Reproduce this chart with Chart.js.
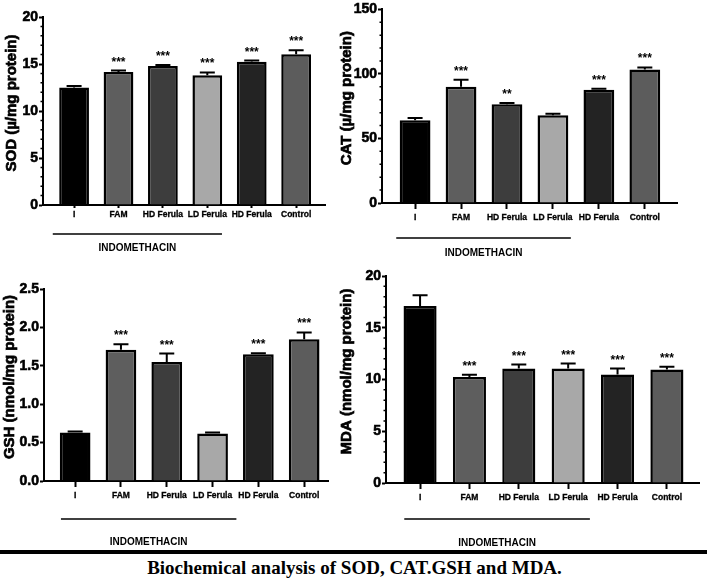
<!DOCTYPE html>
<html lang="en">
<head>
<meta charset="UTF-8">
<title>Biochemical analysis of SOD, CAT.GSH and MDA</title>
<script src="https://cdn.jsdelivr.net/npm/chart.js@4.4.1/dist/chart.umd.min.js"></script>
<style>
  body { margin: 0; background: #fff; width: 709px; height: 582px; position: relative; overflow: hidden; }
  canvas { position: absolute; }
  #rule { position: absolute; left: 0; top: 550px; width: 707px; height: 4px; background: #000; }
  #caption { position: absolute; left: 0; width: 709px; top: 557px; text-align: center;
             font: bold 19px "Liberation Serif", "Times New Roman", serif; color: #000; }
</style>
</head>
<body>
<canvas id="sod" width="330" height="262" style="left:0;top:0"></canvas>
<canvas id="cat" width="379" height="262" style="left:330px;top:0"></canvas>
<canvas id="gsh" width="330" height="286" style="left:0;top:262px"></canvas>
<canvas id="mda" width="379" height="286" style="left:330px;top:262px"></canvas>
<div id="rule"></div>
<div id="caption">Biochemical analysis of SOD, CAT.GSH and MDA.</div>
<script>
// groups, same for all four panels
const groups = ["I", "FAM", "HD Ferula", "LD Ferula", "HD Ferula", "Control"];
const barColors = ["#000000", "#5e5e5e", "#3d3d3d", "#a8a8a8", "#232323", "#5c5c5c"];

// SOD
const sodMean = [12.5, 14.15, 14.8, 13.8, 15.25, 16.05];
const sodSem = [0.15, 0.15, 0.1, 0.3, 0.12, 0.4];
const sodStars = ["", "***", "***", "***", "***", "***"];
const sodTicks = [0, 5, 10, 15, 20];

// CAT
const catMean = [64.2, 90, 76.6, 68, 87.8, 103.4];
const catSem = [1.6, 5.5, 0.8, 1.2, 0.8, 1.6];
const catStars = ["", "***", "**", "", "***", "***"];
const catTicks = [0, 50, 100, 150];

// GSH
const gshMean = [0.63, 1.71, 1.55, 0.62, 1.65, 1.845];
const gshSem = [0.015, 0.07, 0.11, 0.012, 0.015, 0.09];
const gshStars = ["", "***", "***", "", "***", "***"];
const gshTicks = [0, 0.5, 1.0, 1.5, 2.0, 2.5];

// MDA
const mdaMean = [17.1, 10.25, 11.06, 11.06, 10.48, 10.97];
const mdaSem = [1.05, 0.2, 0.38, 0.48, 0.58, 0.26];
const mdaStars = ["", "***", "***", "***", "***", "***"];
const mdaTicks = [0, 5, 10, 15, 20];

const FONT = "'Liberation Sans', Arial, sans-serif";
Chart.defaults.font.family = FONT;
Chart.defaults.color = "#000";

// error bars, stars, y title, minor ticks and the INDOMETHACIN bracket
const extras = {
  id: "extras",
  afterDatasetsDraw(chart, args, o) {
    const { ctx, scales: { x, y } } = chart;
    const means = chart.data.datasets[0].data.map(d => d.y);
    ctx.save();
    ctx.strokeStyle = "#000";
    ctx.fillStyle = "#000";
    ctx.lineWidth = 2;
    ctx.font = "bold 12px " + FONT;
    ctx.textAlign = "center";
    means.forEach((m, i) => {
      const px = x.getPixelForValue(i);
      const yBar = y.getPixelForValue(m);
      const yTop = y.getPixelForValue(m + o.sem[i]);
      ctx.beginPath();
      ctx.moveTo(px, yBar);
      ctx.lineTo(px, yTop);
      ctx.moveTo(px - 7.5, yTop);
      ctx.lineTo(px + 7.5, yTop);
      ctx.stroke();
      if (o.stars[i]) ctx.fillText(o.stars[i], px, yTop - o.starGap);
    });
    ctx.restore();
  },
  afterDraw(chart, args, o) {
    const { ctx, chartArea: a, scales: { x, y } } = chart;
    ctx.save();
    ctx.strokeStyle = "#000";
    ctx.fillStyle = "#000";
    if (o.minorStep) {
      ctx.lineWidth = 1.5;
      const n = Math.round(y.max / o.minorStep);
      const per = Math.round(o.majorStep / o.minorStep);
      ctx.beginPath();
      for (let k = 1; k < n; k++) {
        if (k % per === 0) continue;
        const py = y.getPixelForValue(k * o.minorStep);
        ctx.moveTo(a.left, py);
        ctx.lineTo(a.left - 2.5, py);
      }
      ctx.stroke();
    }
    // y title, a little heavier than plain bold like the scan
    ctx.save();
    ctx.translate(o.titleX, (a.top + a.bottom) / 2 - 8);
    ctx.rotate(-Math.PI / 2);
    ctx.font = "bold 15px " + FONT;
    ctx.textAlign = "center";
    ctx.textBaseline = "middle";
    ctx.lineWidth = 0.7;
    ctx.fillText(o.title, 0, 0);
    ctx.strokeText(o.title, 0, 0);
    ctx.restore();
    // bracket
    const x1 = x.getPixelForValue(o.bracket[0]);
    const x2 = x.getPixelForValue(o.bracket[1]);
    const ly = a.bottom + o.lineDy;
    ctx.lineWidth = 1.5;
    ctx.beginPath();
    ctx.moveTo(x1, ly);
    ctx.lineTo(x2, ly);
    ctx.stroke();
    ctx.font = "bold 10px " + FONT;
    ctx.textAlign = "center";
    ctx.textBaseline = "middle";
    ctx.fillText("INDOMETHACIN", (x1 + x2) / 2, a.bottom + o.textDy);
    ctx.restore();
  }
};

function makePanel(id, p) {
  return new Chart(document.getElementById(id), {
    type: "bar",
    data: {
      datasets: [{
        data: p.mean.map((v, i) => ({ x: i, y: v })),
        backgroundColor: barColors,
        borderColor: "#000",
        borderWidth: 2.5,
        categoryPercentage: 1,
        barPercentage: 0.67
      }]
    },
    options: {
      responsive: false,
      animation: false,
      layout: { padding: { left: 0, top: p.top, right: p.right, bottom: p.bottom } },
      plugins: {
        legend: { display: false },
        tooltip: { enabled: false },
        extras: {
          sem: p.sem, stars: p.stars, starGap: 5,
          title: p.title, titleX: p.titleX,
          minorStep: p.minorStep, majorStep: p.majorStep,
          bracket: p.bracket, lineDy: p.lineDy, textDy: p.textDy
        }
      },
      scales: {
        x: {
          type: "linear",
          offset: false,
          min: p.xMin,
          max: p.xMax,
          afterBuildTicks: s => { s.ticks = groups.map((g, i) => ({ value: i })); },
          afterFit: s => { s.height = 30; },
          grid: { offset: false, drawOnChartArea: false, tickLength: p.xTickLen, tickColor: "#000", tickWidth: 2 },
          border: { color: "#000", width: 2 },
          ticks: {
            autoSkip: false, maxRotation: 0, padding: p.xPad,
            font: { size: 8.5, weight: "bold" },
            textStrokeColor: "#000", textStrokeWidth: 0.3,
            callback: v => groups[v]
          }
        },
        y: {
          min: 0,
          max: p.ticks[p.ticks.length - 1],
          afterBuildTicks: s => { s.ticks = p.ticks.map(v => ({ value: v })); },
          afterFit: s => { s.width = p.left; },
          grid: { drawOnChartArea: false, tickLength: 4, tickColor: "#000", tickWidth: 2 },
          border: { color: "#000", width: 2 },
          ticks: {
            padding: 1,
            font: { size: 14, weight: "bold" },
            textStrokeColor: "#000", textStrokeWidth: 0.6,
            callback: v => p.decimals ? v.toFixed(1) : v
          }
        }
      }
    },
    plugins: [extras]
  });
}

makePanel("sod", {
  mean: sodMean, sem: sodSem, stars: sodStars, ticks: sodTicks,
  title: "SOD (µ/mg protein)", titleX: 12,
  left: 43, top: 17, right: 5, bottom: 27,
  xMin: -0.7, xMax: 5.65, xTickLen: 3, xPad: 2,
  minorStep: 1, majorStep: 5, bracket: [-0.48, 3.33], lineDy: 29, textDy: 43
});

makePanel("cat", {
  mean: catMean, sem: catSem, stars: catStars, ticks: catTicks,
  title: "CAT (µ/mg protein)", titleX: 17,
  left: 52, top: 9, right: 32, bottom: 29,
  xMin: -0.72, xMax: 5.7, xTickLen: 6, xPad: 3.5,
  minorStep: 10, majorStep: 50, bracket: [-0.41, 3.39], lineDy: 35, textDy: 50
});

makePanel("gsh", {
  mean: gshMean, sem: gshSem, stars: gshStars, ticks: gshTicks, decimals: true,
  title: "GSH (nmol/mg protein)", titleX: 10,
  left: 44, top: 27, right: 2, bottom: 37,
  xMin: -0.68, xMax: 5.52, xTickLen: 6, xPad: 3.5,
  minorStep: 0, majorStep: 0.5, bracket: [-0.31, 3.52], lineDy: 38, textDy: 61
});

makePanel("mda", {
  mean: mdaMean, sem: mdaSem, stars: mdaStars, ticks: mdaTicks,
  title: "MDA (nmol/mg protein)", titleX: 17,
  left: 56, top: 14, right: 10, bottom: 35,
  xMin: -0.69, xMax: 5.65, xTickLen: 6, xPad: 3.5,
  minorStep: 1, majorStep: 5, bracket: [-0.32, 3.44], lineDy: 36, textDy: 60
});
</script>
</body>
</html>
